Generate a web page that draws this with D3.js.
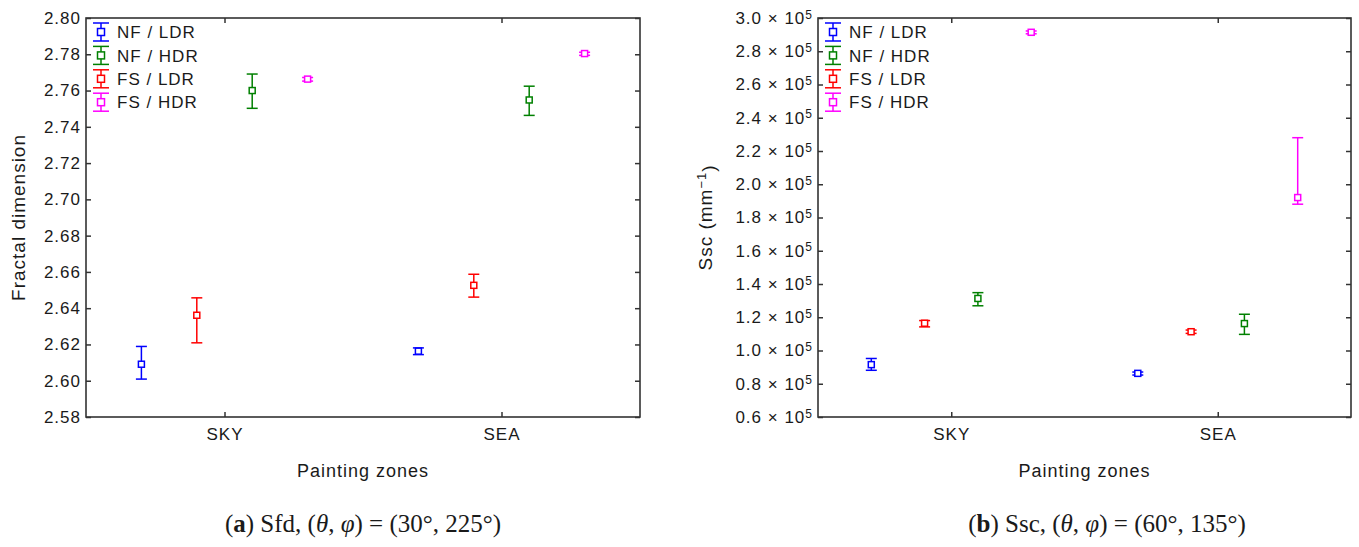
<!DOCTYPE html>
<html>
<head>
<meta charset="utf-8">
<script src="https://cdn.jsdelivr.net/npm/d3@7"></script>
<style>
  body { margin: 0; background: #fff; }
  text { font-family: "Liberation Sans", Arial, sans-serif; fill: #1a1a1a; letter-spacing: 1px; }
</style>
</head>
<body>
<div id="chart"></div>
<script>
// categories and series
var zones = ["SKY", "SEA"];
var series = ["NF / LDR", "NF / HDR", "FS / LDR", "FS / HDR"];
// order the series are placed along x inside each zone
var xOrder = ["NF / LDR", "FS / LDR", "NF / HDR", "FS / HDR"];

// (a) fractal dimension, rows follow `series`, columns follow `zones`
var sfdMean = [[2.6091, 2.6163], [2.7600, 2.7548], [2.6361, 2.6526], [2.7663, 2.7804]];
var sfdLow  = [[2.6009, 2.6144], [2.7502, 2.7463], [2.6209, 2.6461], [2.7652, 2.7794]];
var sfdHigh = [[2.6189, 2.6181], [2.7691, 2.7624], [2.6457, 2.6587], [2.7672, 2.7811]];
var sfdTicks = [2.58, 2.60, 2.62, 2.64, 2.66, 2.68, 2.70, 2.72, 2.74, 2.76, 2.78, 2.80];

// (b) Ssc in units of 10^5 mm^-1
var sscMean = [[0.915, 0.8625], [1.313, 1.162], [1.164, 1.113], [2.914, 1.92]];
var sscLow  = [[0.881, 0.8524], [1.269, 1.097], [1.142, 1.103], [2.905, 1.88]];
var sscHigh = [[0.952, 0.8705], [1.348, 1.218], [1.180, 1.123], [2.922, 2.28]];
var sscTicks = [0.6, 0.8, 1.0, 1.2, 1.4, 1.6, 1.8, 2.0, 2.2, 2.4, 2.6, 2.8, 3.0];

var color = d3.scaleOrdinal()
    .domain(series)
    .range(["#0000ff", "#008000", "#ff0000", "#ff00ff"]);

var svg = d3.select("#chart").append("svg")
    .attr("width", 1359)
    .attr("height", 547);

function drawPanel(p) {
    var w = p.right - p.left;
    var x = d3.scalePoint().domain(zones).range([p.left, p.right]).padding(0.5);
    var dx = d3.scalePoint().domain(xOrder).range([-0.15 * w, 0.15 * w]);
    var y = d3.scaleLinear().domain(p.domain).range([p.bottom, p.top]);
    var g = svg.append("g");

    // axes with inward ticks
    var yl = g.append("g")
        .attr("transform", "translate(" + p.left + ",0)")
        .call(d3.axisLeft(y).tickValues(p.ticks).tickSize(-5).tickPadding(5).tickFormat(p.fmt));
    g.append("g")
        .attr("transform", "translate(" + p.right + ",0)")
        .call(d3.axisRight(y).tickValues(p.ticks).tickSize(-5).tickFormat(""));
    g.append("g")
        .attr("transform", "translate(0," + p.top + ")")
        .call(d3.axisTop(x).tickSize(-5).tickFormat(""));
    g.append("g")
        .attr("transform", "translate(0," + p.bottom + ")")
        .call(d3.axisBottom(x).tickSize(-5).tickPadding(11));
    g.selectAll(".domain").remove();
    g.selectAll(".tick line").attr("stroke", "#333").attr("stroke-width", 1.5);
    g.selectAll(".tick text").style("font-size", "17px").attr("fill", "#1a1a1a");
    if (p.sup) {
        yl.selectAll(".tick text").each(function(d) {
            var t = d3.select(this).text("");
            t.append("tspan").text(d3.format(".1f")(d) + " \u00d7 10");
            t.append("tspan").attr("dy", "-0.45em").style("font-size", "12px").text("5");
        });
    }

    g.append("rect")
        .attr("x", p.left).attr("y", p.top)
        .attr("width", w).attr("height", p.bottom - p.top)
        .attr("fill", "none").attr("stroke", "#333").attr("stroke-width", 1.6);

    // error bars
    var pts = [];
    series.forEach(function(s, i) {
        zones.forEach(function(z, j) {
            pts.push({ s: s, z: z, m: p.mean[i][j], lo: p.low[i][j], hi: p.high[i][j] });
        });
    });
    var bar = g.selectAll(".pt").data(pts).enter().append("g")
        .attr("class", "pt")
        .attr("transform", function(d) { return "translate(" + (x(d.z) + dx(d.s)) + ",0)"; })
        .attr("stroke", function(d) { return color(d.s); })
        .attr("stroke-width", 1.5)
        .attr("fill", "none");
    bar.append("line").attr("y1", function(d) { return y(d.lo); }).attr("y2", function(d) { return y(d.hi); });
    bar.append("line").attr("x1", -5.5).attr("x2", 5.5)
        .attr("y1", function(d) { return y(d.lo); }).attr("y2", function(d) { return y(d.lo); });
    bar.append("line").attr("x1", -5.5).attr("x2", 5.5)
        .attr("y1", function(d) { return y(d.hi); }).attr("y2", function(d) { return y(d.hi); });
    bar.append("rect").attr("x", -3).attr("width", 6).attr("height", 6)
        .attr("y", function(d) { return y(d.m) - 3; })
        .attr("fill", "#fff");

    // legend
    var lg = g.selectAll(".lg").data(series).enter().append("g")
        .attr("class", "lg")
        .attr("transform", function(d, i) { return "translate(" + (p.left + 15) + "," + (32 + i * 23.4) + ")"; });
    var sym = lg.append("g").attr("stroke", function(d) { return color(d); })
        .attr("stroke-width", 1.5).attr("fill", "none");
    sym.append("line").attr("y1", -9).attr("y2", 9);
    sym.append("line").attr("x1", -8).attr("x2", 8).attr("y1", -9).attr("y2", -9);
    sym.append("line").attr("x1", -8).attr("x2", 8).attr("y1", 9).attr("y2", 9);
    sym.append("rect").attr("x", -3.5).attr("y", -3.5).attr("width", 7).attr("height", 7).attr("fill", "#fff");
    lg.append("text").attr("x", 16).attr("dy", "0.36em").style("font-size", "17px").text(function(d) { return d; });

    // axis titles
    var yt = g.append("text")
        .attr("transform", "translate(" + p.yTitleX + "," + ((p.top + p.bottom) / 2) + ") rotate(-90)")
        .attr("text-anchor", "middle")
        .attr("dy", "0.36em")
        .style("font-size", "19px");
    p.yTitle(yt);
    g.append("text")
        .attr("x", (p.left + p.right) / 2).attr("y", 477)
        .attr("text-anchor", "middle")
        .style("font-size", "18px")
        .text("Painting zones");

    // caption
    var cap = g.append("text")
        .attr("x", p.capX).attr("y", 532)
        .attr("text-anchor", "middle")
        .style("font-family", "'Liberation Serif', 'Times New Roman', serif")
        .style("letter-spacing", "0px")
        .style("font-size", "25px");
    cap.append("tspan").text("(");
    cap.append("tspan").style("font-weight", "bold").text(p.letter);
    cap.append("tspan").text(") " + p.capName + ", (");
    cap.append("tspan").style("font-style", "italic").text("\u03b8");
    cap.append("tspan").text(", ");
    cap.append("tspan").style("font-style", "italic").text("\u03c6");
    cap.append("tspan").text(") = " + p.capAngles);
}

drawPanel({
    left: 86, right: 640, top: 18, bottom: 417,
    domain: [2.58, 2.80], ticks: sfdTicks, fmt: d3.format(".2f"), sup: false,
    mean: sfdMean, low: sfdLow, high: sfdHigh,
    yTitleX: 18,
    yTitle: function(t) { t.text("Fractal dimension"); },
    capX: 363, letter: "a", capName: "Sfd", capAngles: "(30\u00b0, 225\u00b0)"
});

drawPanel({
    left: 818, right: 1351, top: 18, bottom: 417,
    domain: [0.6, 3.0], ticks: sscTicks, fmt: d3.format(".1f"), sup: true,
    mean: sscMean, low: sscLow, high: sscHigh,
    yTitleX: 705,
    yTitle: function(t) {
        t.append("tspan").text("Ssc (mm");
        t.append("tspan").attr("dy", "-0.45em").style("font-size", "13px").text("\u22121");
        t.append("tspan").attr("dy", "0.45em").text(")");
    },
    capX: 1107, letter: "b", capName: "Ssc", capAngles: "(60\u00b0, 135\u00b0)"
});
</script>
</body>
</html>
